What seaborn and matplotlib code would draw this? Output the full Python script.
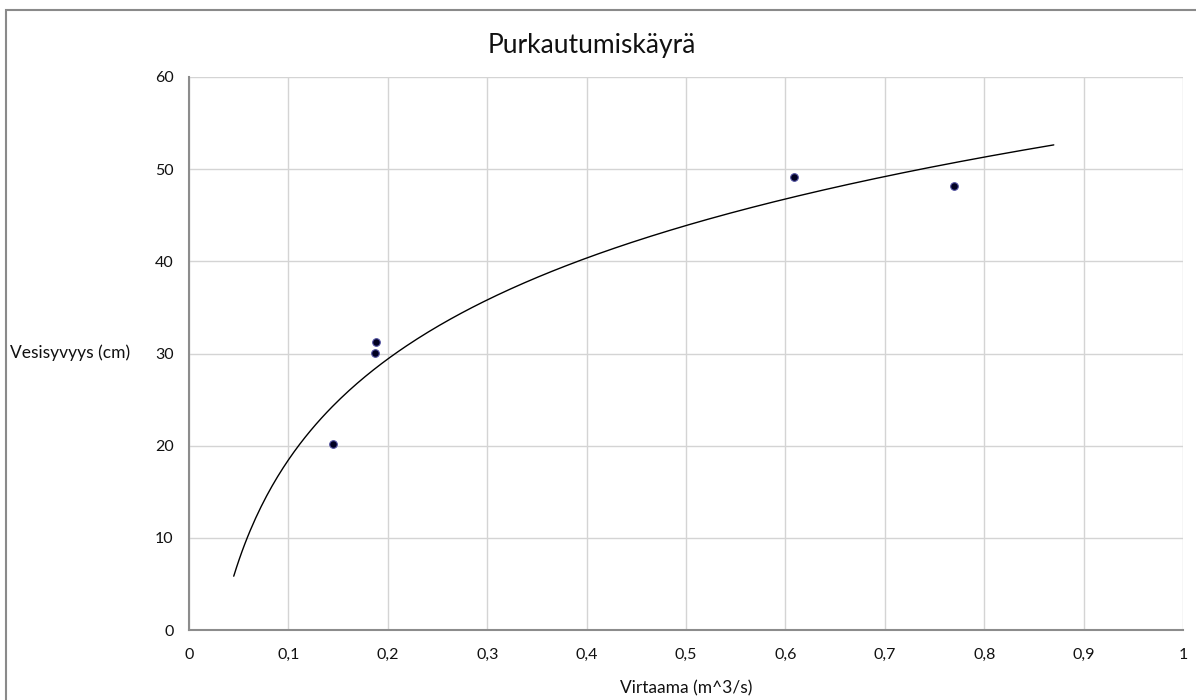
import matplotlib
matplotlib.use("Agg")
import matplotlib.pyplot as plt
import numpy as np
import pandas as pd
import seaborn as sns
from matplotlib.patches import Rectangle
from matplotlib.ticker import FuncFormatter, MultipleLocator

# mittaukset
virtaama = [0.145, 0.187, 0.188, 0.609, 0.770]
syvyys = [20.2, 30.1, 31.2, 49.1, 48.2]

title = "Purkautumiskäyrä"
xlabel = "Virtaama (m^3/s)"
ylabel = "Vesisyvyys (cm)"

df = pd.DataFrame({"x": virtaama, "y": syvyys})

# logaritminen trendiviiva (Excel-tyyliin, ennuste 0,1 molempiin suuntiin)
a, b = np.polyfit(np.log(df["x"]), df["y"], 1)
xs = np.linspace(df["x"].min() - 0.1, df["x"].max() + 0.1, 300)
trend = pd.DataFrame({"x": xs, "y": a * np.log(xs) + b})

sns.set_style("white")
plt.rcParams["font.family"] = ["Lato", "DejaVu Sans"]

fig = plt.figure(figsize=(11.96, 7.0), dpi=100)
ax = fig.add_axes([189 / 1196, 70 / 700, 994 / 1196, 553 / 700])

sns.lineplot(data=trend, x="x", y="y", color="black", linewidth=1.0, ax=ax)
sns.scatterplot(data=df, x="x", y="y", color="#000022", edgecolor="#5050a0",
                linewidth=0.8, s=30, ax=ax, zorder=5)

ax.set_xlim(0, 1)
ax.set_ylim(0, 60)
ax.xaxis.set_major_locator(MultipleLocator(0.1))
ax.yaxis.set_major_locator(MultipleLocator(10))

def comma(v, pos):
    s = f"{v:.1f}".rstrip("0").rstrip(".")
    return s.replace(".", ",")

ax.xaxis.set_major_formatter(FuncFormatter(comma))
ax.yaxis.set_major_formatter(FuncFormatter(comma))

ax.grid(True, color="#d4d4d4", linewidth=1.0)
ax.set_axisbelow(True)
for side in ["top", "right"]:
    ax.spines[side].set_visible(False)
for side in ["left", "bottom"]:
    ax.spines[side].set_color("#8c8c8c")
    ax.spines[side].set_linewidth(1.5)

ax.tick_params(axis="x", direction="out", length=4, width=1.2, color="#8c8c8c",
               pad=9, labelsize=11.5, labelcolor="#111111")
ax.tick_params(axis="y", direction="out", length=4, width=1.2, color="#8c8c8c",
               pad=7, labelsize=11.5, labelcolor="#111111")

ax.set_xlabel(xlabel, fontsize=12.5, color="#111111", va="center")
ax.xaxis.set_label_coords(0.5, -(688 - 630) / 553)
ax.set_ylabel(ylabel, fontsize=12.5, color="#111111", rotation=0,
              ha="left", va="center")
ax.yaxis.set_label_coords((10 - 189) / 994, (630 - 353) / 553)

fig.text(0.495, 1 - 45 / 700, title, ha="center", va="center", fontsize=19,
         color="#111111")

# kaavion reunus
fig.patches.append(Rectangle((6 / 1196, -0.05), 1.2, 1 - 10 / 700 + 0.05,
                             transform=fig.transFigure, fill=False,
                             edgecolor="#8a8a8a", linewidth=1.5))

fig.savefig("out.png", dpi=100)
